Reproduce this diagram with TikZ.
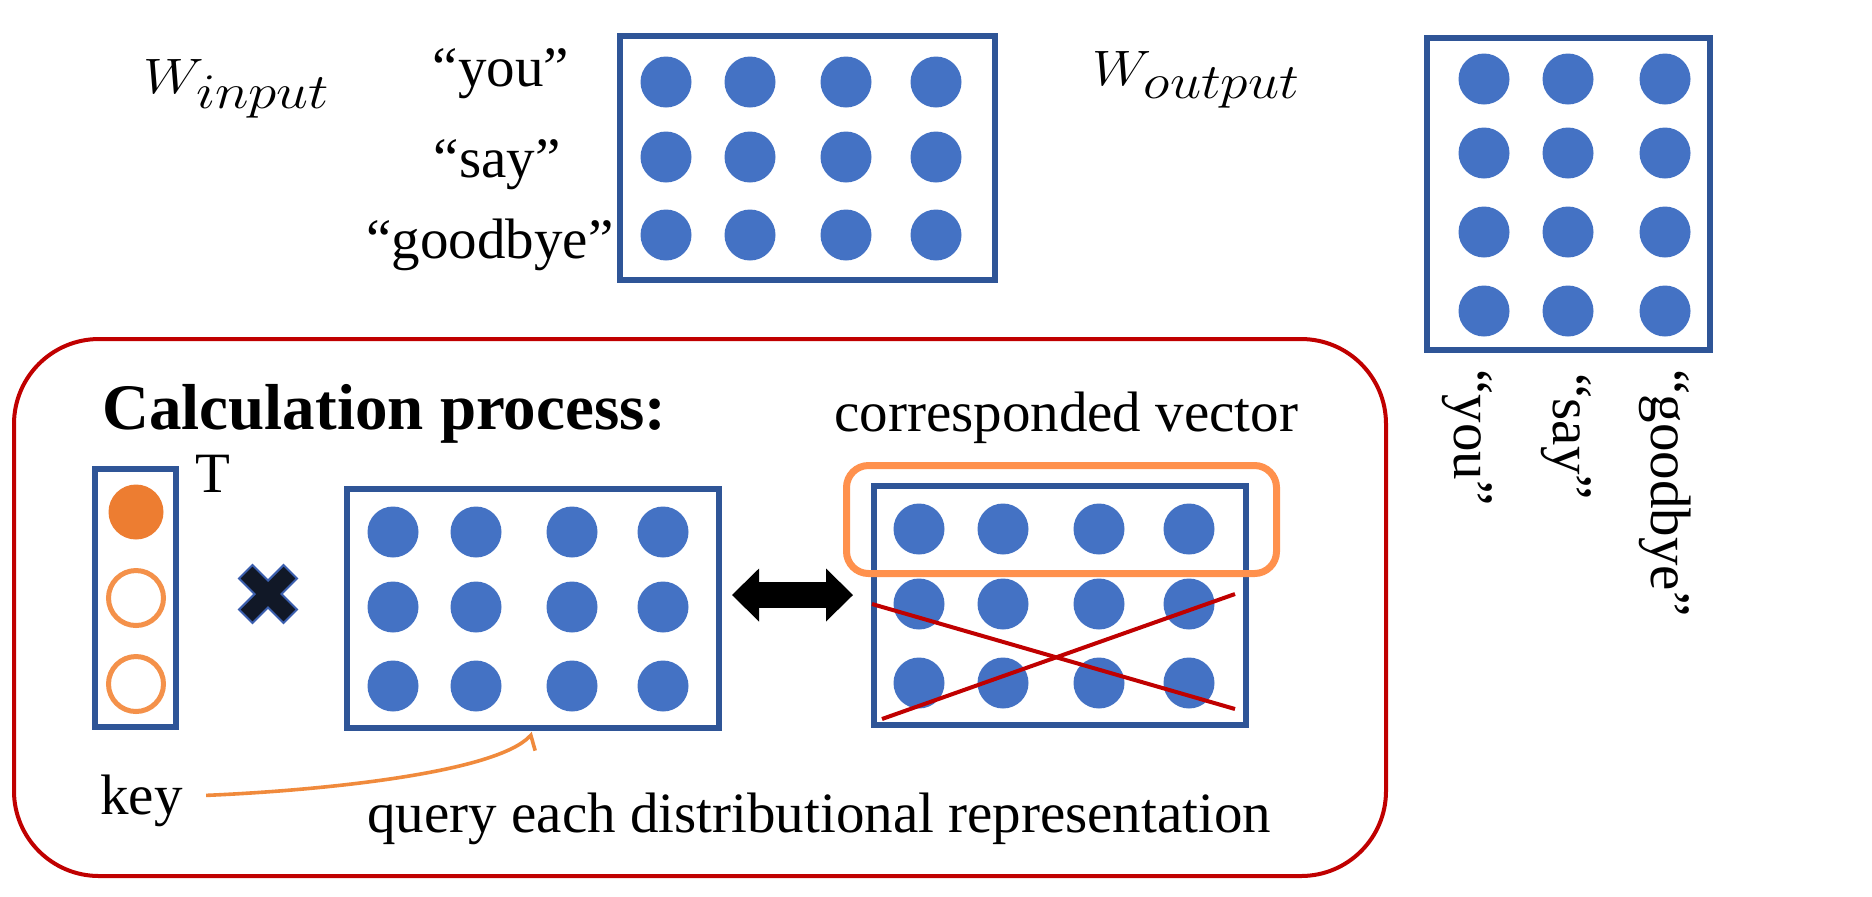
\documentclass[tikz,border=0pt]{standalone}
\usepackage{fontspec}
\setmainfont{Liberation Serif}
\usetikzlibrary{arrows.meta,calc}
\definecolor{dotblue}{HTML}{4472C4}
\definecolor{boxblue}{HTML}{2F5597}
\definecolor{redline}{HTML}{C00000}
\definecolor{orfill}{HTML}{ED7D31}
\definecolor{orline}{HTML}{F4914A}
\definecolor{orbox}{HTML}{FF914D}
\definecolor{orcurvec}{HTML}{F08A3C}
\definecolor{xnavy}{HTML}{111827}
\definecolor{xedge}{HTML}{3B5FAF}
\begin{document}
\begin{tikzpicture}[x=0.5pt,y=-0.5pt,
  dot/.style={circle,fill=dotblue,inner sep=0,minimum size=25.5pt},
  mat/.style={draw=boxblue,line width=3pt,inner sep=0},
  txt/.style={inner sep=0,font=\fontsize{28.5}{34}\selectfont},
  mathlbl/.style={inner sep=0,font=\fontsize{34}{40}\selectfont},
  bold/.style={inner sep=0,font=\bfseries\fontsize{32.5}{39}\selectfont},
  container/.style={draw=redline,line width=2pt,rounded corners=42.5pt,inner sep=0},
  hilite/.style={draw=orbox,line width=3.5pt,rounded corners=11pt,inner sep=0},
  keydot/.style={circle,fill=orfill,inner sep=0,minimum size=27.5pt},
  emptydot/.style={circle,draw=orline,line width=2.5pt,inner sep=0,minimum size=27.5pt},
  cross/.style={draw=redline,line width=2pt},
  bigarrow/.style={line width=13pt,{Triangle[length=13.5pt,width=26.5pt,line width=0pt]}-{Triangle[length=13.5pt,width=26.5pt,line width=0pt]}},
  querycurve/.style={draw=orcurvec,line width=1.8pt,-{Straight Barb[harpoon,swap,angle=120:8pt]}}
]
\fill[white] (0,0) rectangle (1872,896);
\useasboundingbox (0,0) rectangle (1872,896);

% container
\node[container,minimum width=686pt,minimum height=268.5pt] (calcbox) at (700,607.5) {};

% top labels
\node[mathlbl,anchor=base west] (wi) at (143,93) {\scalebox{1.15}[1]{$W_{input}$}};
\node[mathlbl,anchor=base west] (wo) at (1092,85) {\scalebox{1.12}[1]{$W_{output}$}};
\node[txt,anchor=base] (lyou) at (501,86) {“you”};
\node[txt,anchor=base] (lsay) at (497,177) {“say”};
\node[txt,anchor=base] (lgb) at (490,258) {“goodbye”};

% W input matrix
\node[mat,minimum width=187.5pt,minimum height=122pt] (win) at (807.5,158) {};
\foreach \x [count=\i] in {666,750,846,936}
  \foreach \y [count=\j] in {82,157,235}
    \node[dot] (win-\j-\i) at (\x,\y) {};

% W output matrix
\node[mat,minimum width=141.5pt,minimum height=156pt] (wout) at (1568.5,194) {};
\foreach \x [count=\i] in {1484,1568,1665}
  \foreach \y [count=\j] in {79,153,232,311}
    \node[dot] (wout-\j-\i) at (\x,\y) {};
\node[txt,rotate=-90,anchor=base west] (ryou) at (1454,369) {“you”};
\node[txt,rotate=-90,anchor=base west] (rsay) at (1553,373) {“say”};
\node[txt,rotate=-90,anchor=base west] (rgb) at (1651,369) {“goodbye”};

% calculation process
\node[bold,anchor=base west] (calc) at (102,429) {Calculation process:};
\node[txt,anchor=base west] (cv) at (834,431) {corresponded vector};
\node[txt,anchor=base west] (tT) at (195,492) {T};
\node[txt,anchor=base west] (key) at (100,814) {key};
\node[txt,anchor=base west] (query) at (367,832) {query each distributional representation};

% one-hot vector
\node[mat,minimum width=40.5pt,minimum height=129pt] (tvec) at (135.5,598) {};
\node[keydot] (t1) at (136,512) {};
\node[emptydot] (t2) at (136,598) {};
\node[emptydot] (t3) at (136,684) {};

% multiplication sign
\filldraw[fill=xnavy,draw=xedge,line width=1pt,shift={(268,594)},rotate=45]
  (9.5,31.5)--(9.5,9.5)--(31.5,9.5)--(31.5,-9.5)--(9.5,-9.5)--(9.5,-31.5)
  --(-9.5,-31.5)--(-9.5,-9.5)--(-31.5,-9.5)--(-31.5,9.5)--(-9.5,9.5)--(-9.5,31.5)--cycle;

% middle matrix
\node[mat,minimum width=186pt,minimum height=119.5pt] (mid) at (533,608.5) {};
\foreach \x [count=\i] in {393,476,572,663}
  \foreach \y [count=\j] in {532,607,686}
    \node[dot] (mid-\j-\i) at (\x,\y) {};

% right matrix
\node[mat,minimum width=186pt,minimum height=119.5pt] (rt) at (1060,605.5) {};
\foreach \x [count=\i] in {919,1003,1099,1189}
  \foreach \y [count=\j] in {529,604,683}
    \node[dot] (rt-\j-\i) at (\x,\y) {};
\node[hilite,minimum width=215pt,minimum height=54pt] (hl) at (1061.5,519.5) {};
\draw[cross] (872,604) -- (1235,709);
\draw[cross] (882,719) -- (1235,594);

% connectors
\draw[bigarrow] ($(mid.east)+(10,-13.5)$) -- ($(rt.west)+(-18,-10.5)$);
\draw[querycurve] ($(key.east)+(23,-5)$) .. controls (330,790) and (495,772) .. ($(mid.south)+(0,2)$);
\end{tikzpicture}
\end{document}
